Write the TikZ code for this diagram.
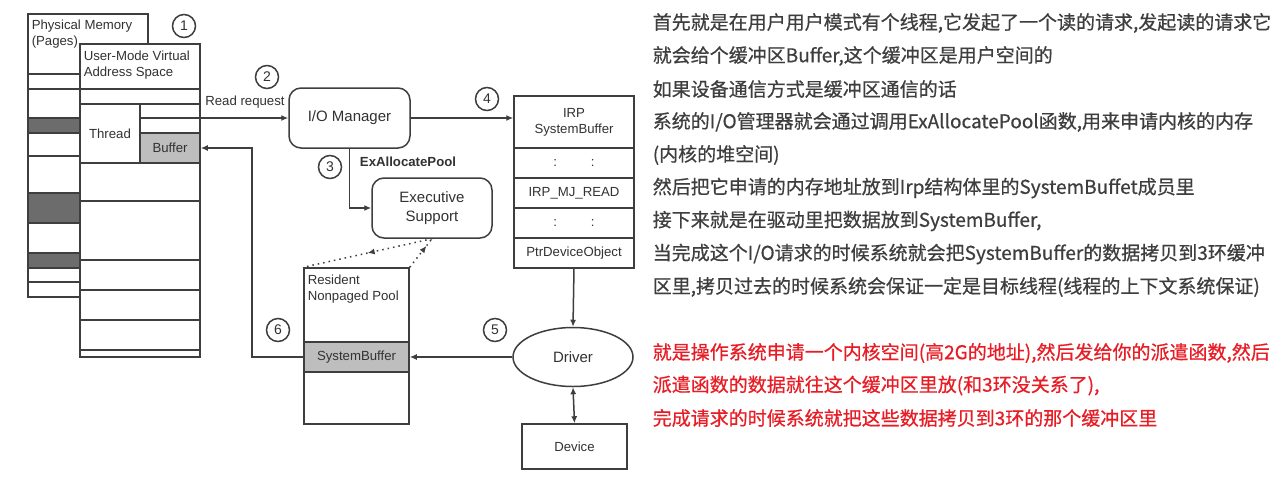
\documentclass[tikz,border=0pt]{standalone}
\usepackage{fontspec}
\setmainfont{Liberation Sans}
\newfontfamily\cjk[FakeBold=0.6]{Noto Sans CJK SC}
\usetikzlibrary{arrows.meta, shapes.geometric, decorations.markings}
\definecolor{linegray}{RGB}{62,62,62}
\definecolor{textgray}{RGB}{50,50,50}
\definecolor{bufgray}{RGB}{190,190,190}
\definecolor{pagegray}{RGB}{108,108,108}
\definecolor{notered}{RGB}{232,28,36}
\tikzstyle{box}=[draw, fill=white, inner sep=0pt, text=textgray, font=\fontsize{6.6}{8}\selectfont]
\tikzstyle{rbox}=[box, rounded corners=6pt, align=center, font=\fontsize{7.5}{9.2}\selectfont]
\tikzstyle{tag}=[inner sep=0pt, anchor=north west, align=left, text=textgray, font=\fontsize{6.6}{8}\selectfont]
\tikzstyle{num}=[circle, draw, fill=white, minimum size=11.5pt, inner sep=0pt, text=textgray, font=\fontsize{7}{8}\selectfont]
\tikzstyle{flow}=[-{Latex[length=3.5pt,width=3pt]}]
\tikzstyle{note}=[anchor=west, inner sep=0pt, font=\cjk\fontsize{9.5}{11}\selectfont]
\tikzset{midarrow/.style={postaction={decorate}, decoration={markings, mark=at position #1 with {\arrow{Latex[length=3.5pt,width=3pt]}}}}}

\begin{document}
\begin{tikzpicture}[x=0.5pt, y=-0.5pt, line width=0.75pt, linegray]
\fill[white] (0,0) rectangle (1287,489);
\useasboundingbox (0,0) rectangle (1287,489);
% Physical memory
    \node[box, minimum width=60pt, minimum height=141.5pt] (phys) at (88,155.5) {};
    \node[tag] (physlbl) at (31,19) {Physical Memory\\(Pages)};
    \foreach \y in {74,89,156,282} \draw (28,\y) -- (80,\y);
    \foreach \a/\b in {118/133,193/223,253/268} \draw[fill=pagegray] (28,\a) rectangle (80,\b);
% User-mode address space
    \node[box, minimum width=60pt, minimum height=156.5pt] (vas) at (140,200.5) {};
    \node[tag] (vaslbl) at (83,50) {User-Mode Virtual\\Address Space};
    \foreach \y in {89,104,163,201,260,290,320,350} \draw (80,\y) -- (200,\y);
    \node[box, minimum width=30pt, minimum height=29.5pt] (thread) at (110,133.5) {Thread};
    \node[box, fill=bufgray, minimum width=30pt, minimum height=15pt] (buffer) at (170,148) {Buffer};
% Kernel side
    \node[rbox, minimum width=60.5pt, minimum height=30pt] (iom) at (349.5,118) {I/O Manager};
    \node[rbox, minimum width=60pt, minimum height=30pt] (exec) at (432,208) {Executive\\Support};
    \node[box, align=center, minimum width=60pt, minimum height=26pt] (irp) at (574,122) {IRP\\SystemBuffer};
    \foreach \t [count=\i] in {{:\hspace{17pt}:}, IRP\_MJ\_READ, {:\hspace{17pt}:}, PtrDeviceObject}
        \node[box, minimum width=60pt, minimum height=15pt] (irp\i) at (574,133+30*\i) {\t};
    \node[box, minimum width=52.5pt, minimum height=78pt] (pool) at (356.5,346) {};
    \node[tag] (poollbl) at (307,274) {Resident\\Nonpaged Pool};
    \node[box, fill=bufgray, minimum width=52.5pt, minimum height=15pt] (sysbuf) at (356.5,357) {SystemBuffer};
    \node[box, ellipse, minimum width=60pt, minimum height=29.5pt, font=\fontsize{7.5}{9}\selectfont] (driver) at (573,357) {Driver};
    \node[box, minimum width=52.5pt, minimum height=22.5pt] (device) at (574.5,446.5) {Device};
% Steps
    \node[num] (n1) at (184,26) {1};
    \node[num] (n2) at (267,77) {2};
    \node[num] (n3) at (330,167) {3};
    \node[num] (n4) at (487,99) {4};
    \node[num] (n5) at (495,330) {5};
    \node[num] (n6) at (278,330) {6};
    \node[tag, anchor=center] (readlbl) at (245,102) {Read request};
    \node[tag, anchor=center, font=\bfseries\fontsize{6.6}{8}\selectfont] (alloclbl) at (408,162) {ExAllocatePool};
% Connectors
    \draw[flow] (thread.east |- iom.west) -- (iom.west);
    \draw[flow] (iom.east) -- (iom.east -| irp.west);
    \draw[flow] (iom.south) -- (iom.south |- exec.west) -- (exec.west);
    \draw[dotted, midarrow=0.5] (exec.south) -- (pool.north west);
    \draw[dotted, midarrow=0.75] (pool.north east) -- (exec.south);
    \draw[flow] (irp4.south) -- (driver.north);
    \draw[flow] (driver.west) -- (sysbuf.east);
    \draw[{Latex[length=3.5pt,width=3pt]}-{Latex[length=3.5pt,width=3pt]}] (driver.south) -- (device.north);
    \coordinate (back) at (252,148);
    \draw[flow] (sysbuf.west) -| (back) -- (buffer.east);
% Notes
    \foreach \t [count=\i from 0] in {
        {首先就是在用户用户模式有个线程,它发起了一个读的请求,发起读的请求它},
        {就会给个缓冲区Buffer,这个缓冲区是用户空间的},
        {如果设备通信方式是缓冲区通信的话},
        {系统的I/O管理器就会通过调用ExAllocatePool函数,用来申请内核的内存},
        {(内核的堆空间)},
        {然后把它申请的内存地址放到Irp结构体里的SystemBuffet成员里},
        {接下来就是在驱动里把数据放到SystemBuffer,},
        {当完成这个I/O请求的时候系统就会把SystemBuffer的数据拷贝到3环缓冲},
        {区里,拷贝过去的时候系统会保证一定是目标线程(线程的上下文系统保证)}}
        \node[note] (note\i) at (652,23+33*\i) {\t};
    \foreach \t [count=\i from 0] in {
        {就是操作系统申请一个内核空间(高2G的地址),然后发给你的派遣函数,然后},
        {派遣函数的数据就往这个缓冲区里放(和3环没关系了),},
        {完成请求的时候系统就把这些数据拷贝到3环的那个缓冲区里}}
        \node[note, text=notered] (red\i) at (652,353+32.5*\i) {\t};
\end{tikzpicture}
\end{document}
